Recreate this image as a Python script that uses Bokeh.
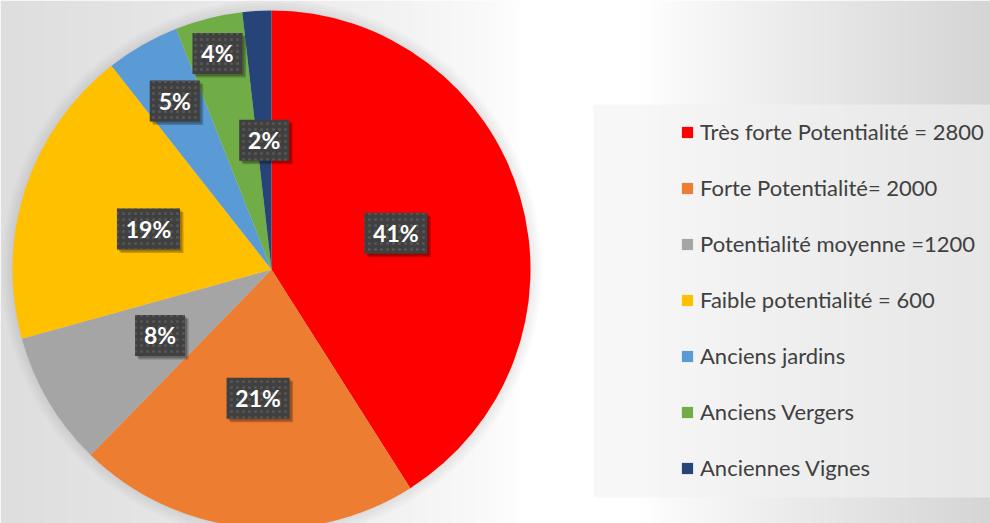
import numpy as np
from bokeh.plotting import figure
from bokeh.models import Range1d, Legend, LegendItem, BoxAnnotation, ColumnDataSource
from bokeh.core.properties import value
from bokeh.embed import file_html
from bokeh.resources import INLINE

# ---- data ----
categories = [
    "Très forte Potentialité = 2800",
    "Forte Potentialité= 2000",
    "Potentialité moyenne =1200",
    "Faible potentialité = 600",
    "Anciens jardins",
    "Anciens Vergers",
    "Anciennes Vignes",
]
shares = [41.0, 21.3, 8.4, 18.7, 4.6, 4.2, 1.8]
colors = ["#FF0000", "#ED7D31", "#A5A5A5", "#FFC000", "#5B9BD5", "#70AD47", "#264478"]
# radial position of each data label (fraction of radius)
label_r = [0.50, 0.50, 0.50, 0.50, 0.75, 0.86, 0.50]

# ---- geometry (data units == window pixels, y up) ----
W, H = 990, 523
X0, X1 = 0, 990
Y0, Y1 = 0, 523
CX, CY, R = 271, 254, 259

p = figure(width=W, height=H, x_range=Range1d(X0, X1), y_range=Range1d(Y0, Y1),
           output_backend="svg", toolbar_location=None,
           x_axis_location=None, y_axis_location=None, min_border=0)
p.grid.visible = False
p.outline_line_color = None
p.background_fill_color = "white"
p.border_fill_color = "white"

# background gradient
xs = np.arange(X0, X1) + 0.5
ys = np.arange(Y0, Y1) + 0.5
XX, YY = np.meshgrid(xs, ys)
g = np.full(XX.shape, 255.0)
left = np.clip((520 - XX) / 520, 0, 1)
right = np.clip((XX - 640) / 350, 0, 1)
g -= 33 * left ** 0.7
g -= 42 * right ** 0.9
g = np.clip(g, 0, 255).astype(np.uint32)
img = (255 << 24) | (g << 16) | (g << 8) | g
p.image_rgba(image=[img.astype(np.uint32)], x=X0, y=Y0, dw=X1 - X0, dh=Y1 - Y0)

# legend box
p.add_layout(BoxAnnotation(left=593, right=1000, bottom=523 - 497, top=523 - 104,
                           fill_color="#f2f2f2", fill_alpha=0.6, line_color=None))

# pie soft shadow
for k in [2, 5, 8, 11]:
    p.circle(x=[CX], y=[CY], radius=R + k, fill_color="black", fill_alpha=0.02, line_color=None)

# wedges
total = sum(shares)
frac = np.array(shares) / total
cum = np.concatenate([[0], np.cumsum(frac)])
start = np.pi / 2 - cum[:-1] * 2 * np.pi
end = np.pi / 2 - cum[1:] * 2 * np.pi
src = ColumnDataSource(dict(start=start, end=end, color=colors, cat=categories))
wr = p.wedge(x=CX, y=CY, radius=R, start_angle="start", end_angle="end",
             direction="clock", fill_color="color", line_color=None, source=src)

# data labels
mid = (cum[:-1] + cum[1:]) / 2 * 2 * np.pi
lx = CX + np.array(label_r) * R * np.sin(mid)
ly = CY + np.array(label_r) * R * np.cos(mid)
texts = [f"{round(v)}%" for v in frac * 100]
bw = [13 * len(t) + 24 for t in texts]
bh = [41] * len(texts)
p.rect(x=lx + 3.5, y=ly - 3.5, width=bw, height=bh, fill_color="black", fill_alpha=0.22, line_color=None)
p.rect(x=lx + 2, y=ly - 2, width=bw, height=bh, fill_color="black", fill_alpha=0.2, line_color=None)
p.rect(x=lx, y=ly, width=bw, height=bh, fill_color="#404040", line_color=None,
       hatch_pattern="dot", hatch_color="#575757", hatch_scale=6, hatch_weight=2)
p.text(x=lx, y=ly, text=texts, text_color="white", text_font=value("Lato"),
       text_font_style="bold", text_font_size="23px", text_align="center", text_baseline="middle")

# legend
items = [LegendItem(label=c, renderers=[wr], index=i) for i, c in enumerate(categories)]
legend = Legend(items=items, location=(680, 42), glyph_width=14, glyph_height=14,
                label_standoff=6, spacing=29, label_height=20, padding=0, margin=0,
                background_fill_alpha=0, border_line_color=None,
                label_text_font="Lato", label_text_font_size="22px", label_text_color="#404040")
p.add_layout(legend)

open("out.html", "w").write(file_html(p, INLINE))
